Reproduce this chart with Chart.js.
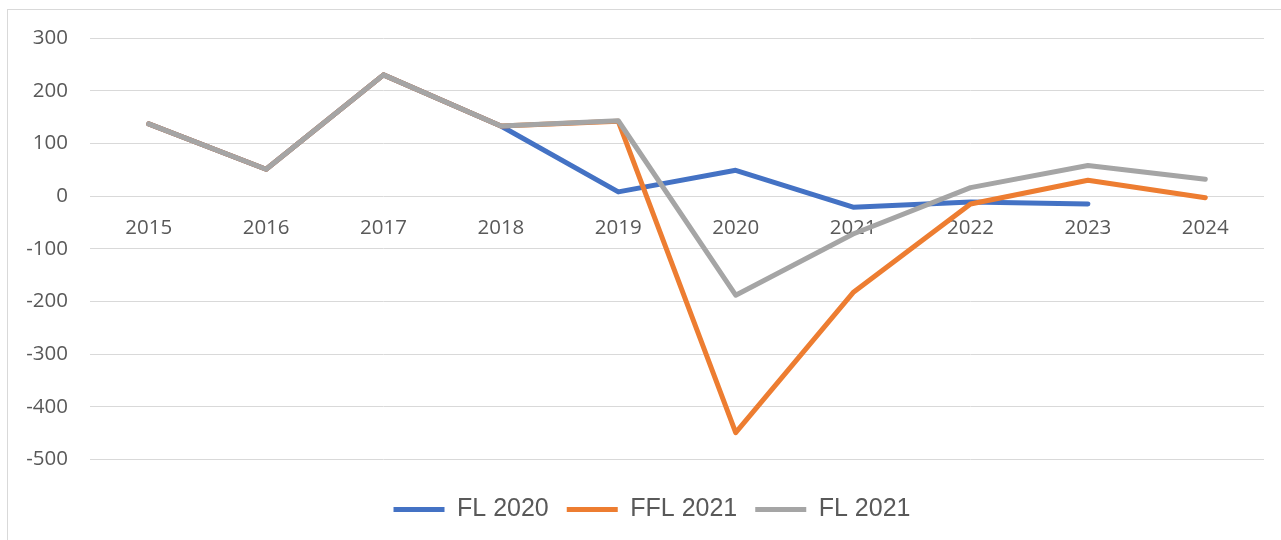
<!DOCTYPE html>
<html>
<head>
<meta charset="utf-8">
<script src="https://cdn.jsdelivr.net/npm/chart.js@4.4.1/dist/chart.umd.min.js"></script>
<style>
  html, body { margin: 0; padding: 0; background: #fff; }
  #frame { position: absolute; left: 7px; top: 9px; width: 1300px; height: 600px; border: 1px solid #D9D9D9; }
  #wrap { position: absolute; left: 0; top: 0; width: 1281px; height: 540px; }
</style>
</head>
<body>
<div id="frame"></div>
<div id="wrap"><canvas id="lineChart"></canvas></div>
<script>
const years = ['2015', '2016', '2017', '2018', '2019', '2020', '2021', '2022', '2023', '2024'];
const fl2020 = [137, 51, 230, 133, 8, 49, -21, -11, -15, null];
const ffl2021 = [137, 51, 230, 133, 142, -449, -183, -15, 30, -3];
const fl2021 = [137, 51, 230, 133, 143, -188, -72, 16, 58, 32];
const yTicks = [300, 200, 100, 0, -100, -200, -300, -400, -500];

const line = (label, data, color, order) => ({
    label: label,
    data: data,
    borderColor: color,
    backgroundColor: color,
    borderWidth: 5,
    borderCapStyle: 'round',
    borderJoinStyle: 'round',
    pointRadius: 0,
    pointHoverRadius: 0,
    tension: 0,
    order: order
});

// nudge the legend a bit to the right, like the original
const legendShift = {
    id: 'legendShift',
    afterLayout(chart) {
        chart.legend.left += 16;
        chart.legend.right += 16;
    }
};

const ctx = document.getElementById('lineChart').getContext('2d');
new Chart(ctx, {
    type: 'line',
    data: {
        labels: years,
        datasets: [
            line('FL 2020', fl2020, '#4472C4', 3),
            line('FFL 2021', ffl2021, '#ED7D31', 2),
            line('FL 2021', fl2021, '#A5A5A5', 1)
        ]
    },
    options: {
        responsive: true,
        maintainAspectRatio: false,
        animation: false,
        layout: { padding: { top: 38, right: 17, bottom: 8, left: 8 } },
        scales: {
            x: {
                position: { y: 0 },
                offset: true,
                grid: { display: false, drawTicks: false },
                border: { display: false },
                ticks: {
                    color: '#595959',
                    padding: 20,
                    maxRotation: 0,
                    font: { family: 'Open Sans', size: 20.5 }
                }
            },
            y: {
                min: Math.min(...yTicks),
                max: Math.max(...yTicks),
                afterFit: s => { s.width = 82; },
                afterBuildTicks: s => { s.ticks = yTicks.map(v => ({ value: v })); },
                grid: { color: '#D9D9D9', lineWidth: 1, drawTicks: false },
                border: { display: false },
                ticks: {
                    color: '#595959',
                    padding: 22,
                    font: { family: 'Open Sans', size: 20.5 }
                }
            }
        },
        plugins: {
            legend: {
                position: 'bottom',
                title: { display: true, text: '', font: { size: 2 }, padding: { top: 17, bottom: 0 } },
                labels: {
                    usePointStyle: true,
                    pointStyle: 'line',
                    pointStyleWidth: 51,
                    padding: 18,
                    color: '#595959',
                    font: { family: 'Liberation Sans', size: 25 },
                    sort: (a, b) => a.datasetIndex - b.datasetIndex
                }
            },
            tooltip: { enabled: false }
        }
    },
    plugins: [legendShift]
});
</script>
</body>
</html>
